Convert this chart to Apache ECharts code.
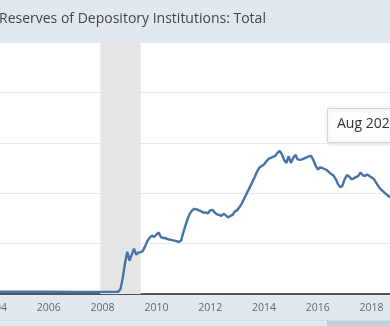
<!DOCTYPE html>
<html>
<head>
<meta charset="utf-8">
<script src="https://cdn.jsdelivr.net/npm/echarts@6/dist/echarts.min.js"></script>
<style>
  html, body { margin: 0; padding: 0; background: #ffffff; }
  #chart { width: 390px; height: 326px; }
</style>
</head>
<body>
<div id="chart"></div>
<script>
// Reserves of depository institutions, billions of dollars (monthly)
const months = [
  '2003-01','2004-01','2005-01','2006-01','2007-01','2008-01','2008-08',
  '2008-09','2008-10','2008-11','2008-12',
  '2009-01','2009-02','2009-03','2009-04','2009-05','2009-06','2009-07','2009-08','2009-09','2009-10','2009-11','2009-12',
  '2010-01','2010-02','2010-03','2010-04','2010-05','2010-06','2010-07','2010-08','2010-09','2010-10','2010-11','2010-12',
  '2011-01','2011-02','2011-03','2011-04','2011-05','2011-06','2011-07','2011-08','2011-09','2011-10','2011-11','2011-12',
  '2012-01','2012-02','2012-03','2012-04','2012-05','2012-06','2012-07','2012-08','2012-09','2012-10','2012-11','2012-12',
  '2013-01','2013-02','2013-03','2013-04','2013-05','2013-06','2013-07','2013-08','2013-09','2013-10','2013-11','2013-12',
  '2014-01','2014-02','2014-03','2014-04','2014-05','2014-06','2014-07','2014-08','2014-09','2014-10','2014-11','2014-12',
  '2015-01','2015-02','2015-03','2015-04','2015-05','2015-06','2015-07','2015-08','2015-09','2015-10','2015-11','2015-12',
  '2016-01','2016-02','2016-03','2016-04','2016-05','2016-06','2016-07','2016-08','2016-09','2016-10','2016-11','2016-12',
  '2017-01','2017-02','2017-03','2017-04','2017-05','2017-06','2017-07','2017-08','2017-09','2017-10','2017-11','2017-12',
  '2018-01','2018-02','2018-03','2018-04','2018-05','2018-06','2018-07','2018-08','2018-09','2018-10','2018-11'
];
const reserves = [
  42, 45, 46, 44, 43, 43, 45,
  100, 320, 610, 840,
  660, 780, 900, 780, 820, 830, 860, 950, 1050, 1120, 1160, 1130,
  1180, 1220, 1130, 1110, 1110, 1090, 1080, 1070, 1060, 1050, 1030, 1060,
  1220, 1360, 1500, 1600, 1660, 1690, 1680, 1660, 1640, 1610, 1620, 1600,
  1660, 1670, 1620, 1580, 1570, 1550, 1590, 1560, 1520, 1550, 1570, 1640,
  1660, 1720, 1790, 1880, 1970, 2060, 2150, 2240, 2330, 2440, 2510, 2540,
  2570, 2630, 2680, 2700, 2720, 2740, 2800, 2840, 2770, 2660, 2600, 2730,
  2600, 2700, 2760, 2670, 2660, 2670, 2690, 2710, 2730, 2740, 2660, 2550,
  2470, 2510, 2500, 2480, 2460, 2420, 2380, 2350, 2280, 2180, 2120, 2150,
  2280, 2360, 2330, 2280, 2290, 2320, 2340, 2410, 2360, 2340, 2370, 2340,
  2310, 2280, 2210, 2140, 2080, 2040, 2000, 1960, 1930, 1900, 1870
];
// Recession period (NBER): Dec 2007 – Jun 2009
const recession = ['2007-12', '2009-06'];
const xTicks = [2004, 2006, 2008, 2010, 2012, 2014, 2016, 2018, 2020];

const toYear = s => {
  const [y, m] = s.split('-').map(Number);
  return y + (m - 1) / 12;
};
const seriesData = months.map((d, i) => [toYear(d), reserves[i]]);

const chart = echarts.init(document.getElementById('chart'), null, { renderer: 'canvas' });
const font = '"Open Sans", "Noto Sans", sans-serif';

chart.setOption({
  backgroundColor: '#ffffff',
  animation: false,
  grid: { left: -5, right: -62.3, top: 42, bottom: 32, containLabel: false, outerBoundsMode: 'none' },
  xAxis: {
    type: 'value',
    min: 2004, max: 2021, interval: 2,
    axisLine: { show: true, lineStyle: { color: '#222', width: 1.5 } },
    axisTick: { show: false },
    splitLine: { show: false },
    axisLabel: {
      show: true, color: '#666', fontSize: 10.5, fontFamily: font, margin: 9,
      showMinLabel: true, showMaxLabel: false, hideOverlap: false,
      formatter: v => xTicks.includes(v) ? String(v) : ''
    }
  },
  yAxis: {
    type: 'value',
    min: 0, max: 5000, interval: 1000,
    axisLine: { show: false },
    axisTick: { show: false },
    axisLabel: { show: false },
    splitLine: { show: true, lineStyle: { color: '#e8e8e8', width: 1 } }
  },
  graphic: [
    { type: 'rect', z: -1, shape: { x: 0, y: 0, width: 390, height: 42 }, style: { fill: '#e1e9f0' } },
    { type: 'text', left: -1, top: 12, style: {
        text: 'Reserves of Depository Institutions: Total',
        fill: '#444', font: '14px ' + font } },
    { type: 'rect', z: -1, shape: { x: 0, y: 295, width: 390, height: 31 }, style: { fill: '#e1e9f0' } },
    { type: 'rect', shape: { x: 0, y: 320, width: 390, height: 1 }, style: { fill: '#d3dce4' } },
    { type: 'rect', shape: { x: 327, y: 321, width: 63, height: 5 }, style: { fill: '#c5d0db' } },
    { type: 'group', z: 100, children: [
      { type: 'rect', shape: { x: 327.5, y: 108.5, width: 130, height: 34, r: 1 },
        style: { fill: 'rgba(255,255,255,0.95)', stroke: '#cfd6dd', lineWidth: 1,
                 shadowBlur: 4, shadowColor: 'rgba(0,0,0,0.15)', shadowOffsetX: 1, shadowOffsetY: 1 } },
      { type: 'text', x: 337, y: 117, style: { text: 'Aug 2020', fill: '#333', font: '14px ' + font } }
    ] }
  ],
  series: [{
    type: 'line',
    data: seriesData,
    showSymbol: false,
    smooth: false,
    lineStyle: { color: '#4572a7', width: 2.4 },
    markArea: {
      silent: true,
      itemStyle: { color: '#e6e6e6' },
      data: [[{ xAxis: toYear(recession[0]) }, { xAxis: toYear(recession[1]) }]]
    }
  }]
});
</script>
</body>
</html>
